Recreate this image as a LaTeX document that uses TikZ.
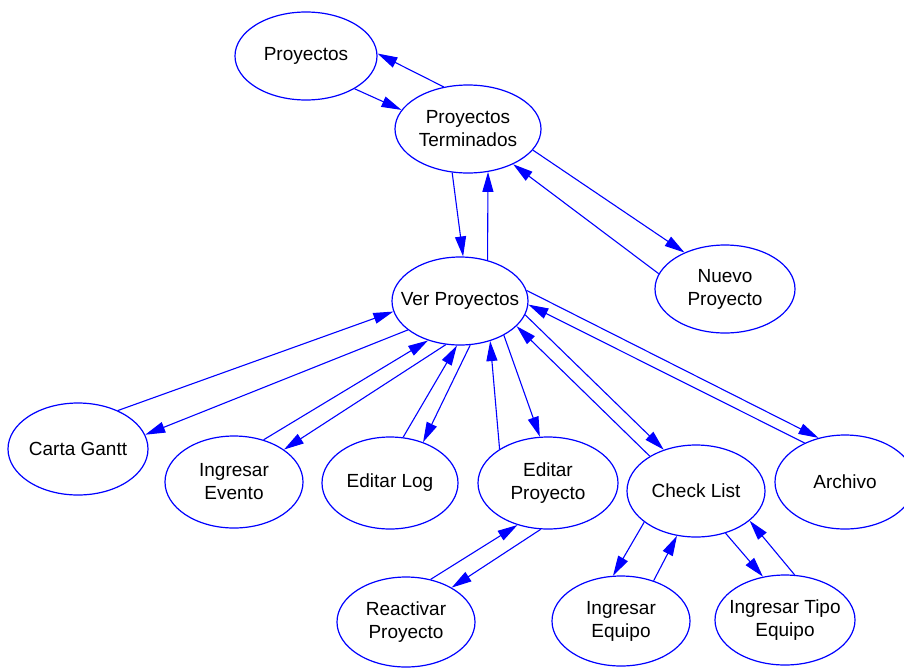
\documentclass[tikz,border=0pt]{standalone}
\usepackage{fontspec}
\setmainfont{Liberation Sans}
\usetikzlibrary{shapes.geometric,arrows.meta}
\definecolor{edgeblue}{RGB}{0,0,255}
\tikzset{
  state/.style={ellipse, draw=edgeblue, line width=1.2pt, inner sep=0pt, fill=white},
  txt/.style={align=center, text=black, font=\fontsize{19}{23}\selectfont, inner sep=0pt},
  link/.style={draw=edgeblue, line width=1.1pt, -{Triangle[length=20pt,width=11pt]}},
}
\begin{document}
\begin{tikzpicture}[x=1pt,y=-1pt]
\useasboundingbox (0,0) rectangle (904,667);

% states
\node[state, minimum width=142, minimum height=88, label={[txt]center:Proyectos}] (p) at (306,56) {};
\node[state, minimum width=146, minimum height=88, label={[txt]center:Proyectos\\Terminados}] (t) at (468,129) {};
\node[state, minimum width=136, minimum height=88, label={[txt]center:Ver Proyectos}] (v) at (460,301) {};
\node[state, minimum width=140, minimum height=88, label={[txt]center:Nuevo\\Proyecto}] (n) at (725,289) {};
\node[state, minimum width=140, minimum height=92, label={[txt]center:Carta Gantt}] (g) at (78,449) {};
\node[state, minimum width=138, minimum height=92, label={[txt]center:Ingresar\\Evento}] (e) at (234,482) {};
\node[state, minimum width=136, minimum height=92, label={[txt]center:Editar Log}] (l) at (390,483) {};
\node[state, minimum width=140, minimum height=92, label={[txt]center:Editar\\Proyecto}] (ep) at (548,483) {};
\node[state, minimum width=138, minimum height=92, label={[txt]center:Check List}] (cl) at (696,491) {};
\node[state, minimum width=140, minimum height=94, label={[txt]center:Archivo}] (a) at (845,482) {};
\node[state, minimum width=138, minimum height=90, label={[txt]center:Reactivar\\Proyecto}] (r) at (406,622) {};
\node[state, minimum width=138, minimum height=90, label={[txt]center:Ingresar\\Equipo}] (ie) at (621,621) {};
\node[state, minimum width=140, minimum height=90, label={[txt]center:Ingresar Tipo\\Equipo}] (te) at (785,620) {};

% transitions
\draw[link] (p.-34) -- (t.164);
\draw[link] (t.120) -- (p.2);
\draw[link] (t.-110) -- (v.86);
\draw[link] (v.56) -- (t.-65);
\draw[link] (t.-18) -- (n.138);
\draw[link] (n.167) -- (t.-38);

\draw[link] (g.44) -- (v.-171);
\draw[link] (v.209) -- (g.12);
\draw[link] (e.55) -- (v.231);
\draw[link] (v.252) -- (e.33);
\draw[link] (l.74) -- (v.266);
\draw[link] (v.-77) -- (l.51);
\draw[link] (ep.145) -- (v.-53);
\draw[link] (v.-38) -- (ep.100);
\draw[link] (cl.143) -- (v.-24);
\draw[link] (v.-12) -- (cl.128);
\draw[link] (a.136) -- (v.-3);
\draw[link] (v.9) -- (a.121);

\draw[link] (r.60) -- (ep.234);
\draw[link] (ep.261) -- (r.37);
\draw[link] (cl.211) -- (ie.100);
\draw[link] (ie.51) -- (cl.247);
\draw[link] (cl.-55) -- (te.117);
\draw[link] (te.78) -- (cl.-29);
\end{tikzpicture}
\end{document}
